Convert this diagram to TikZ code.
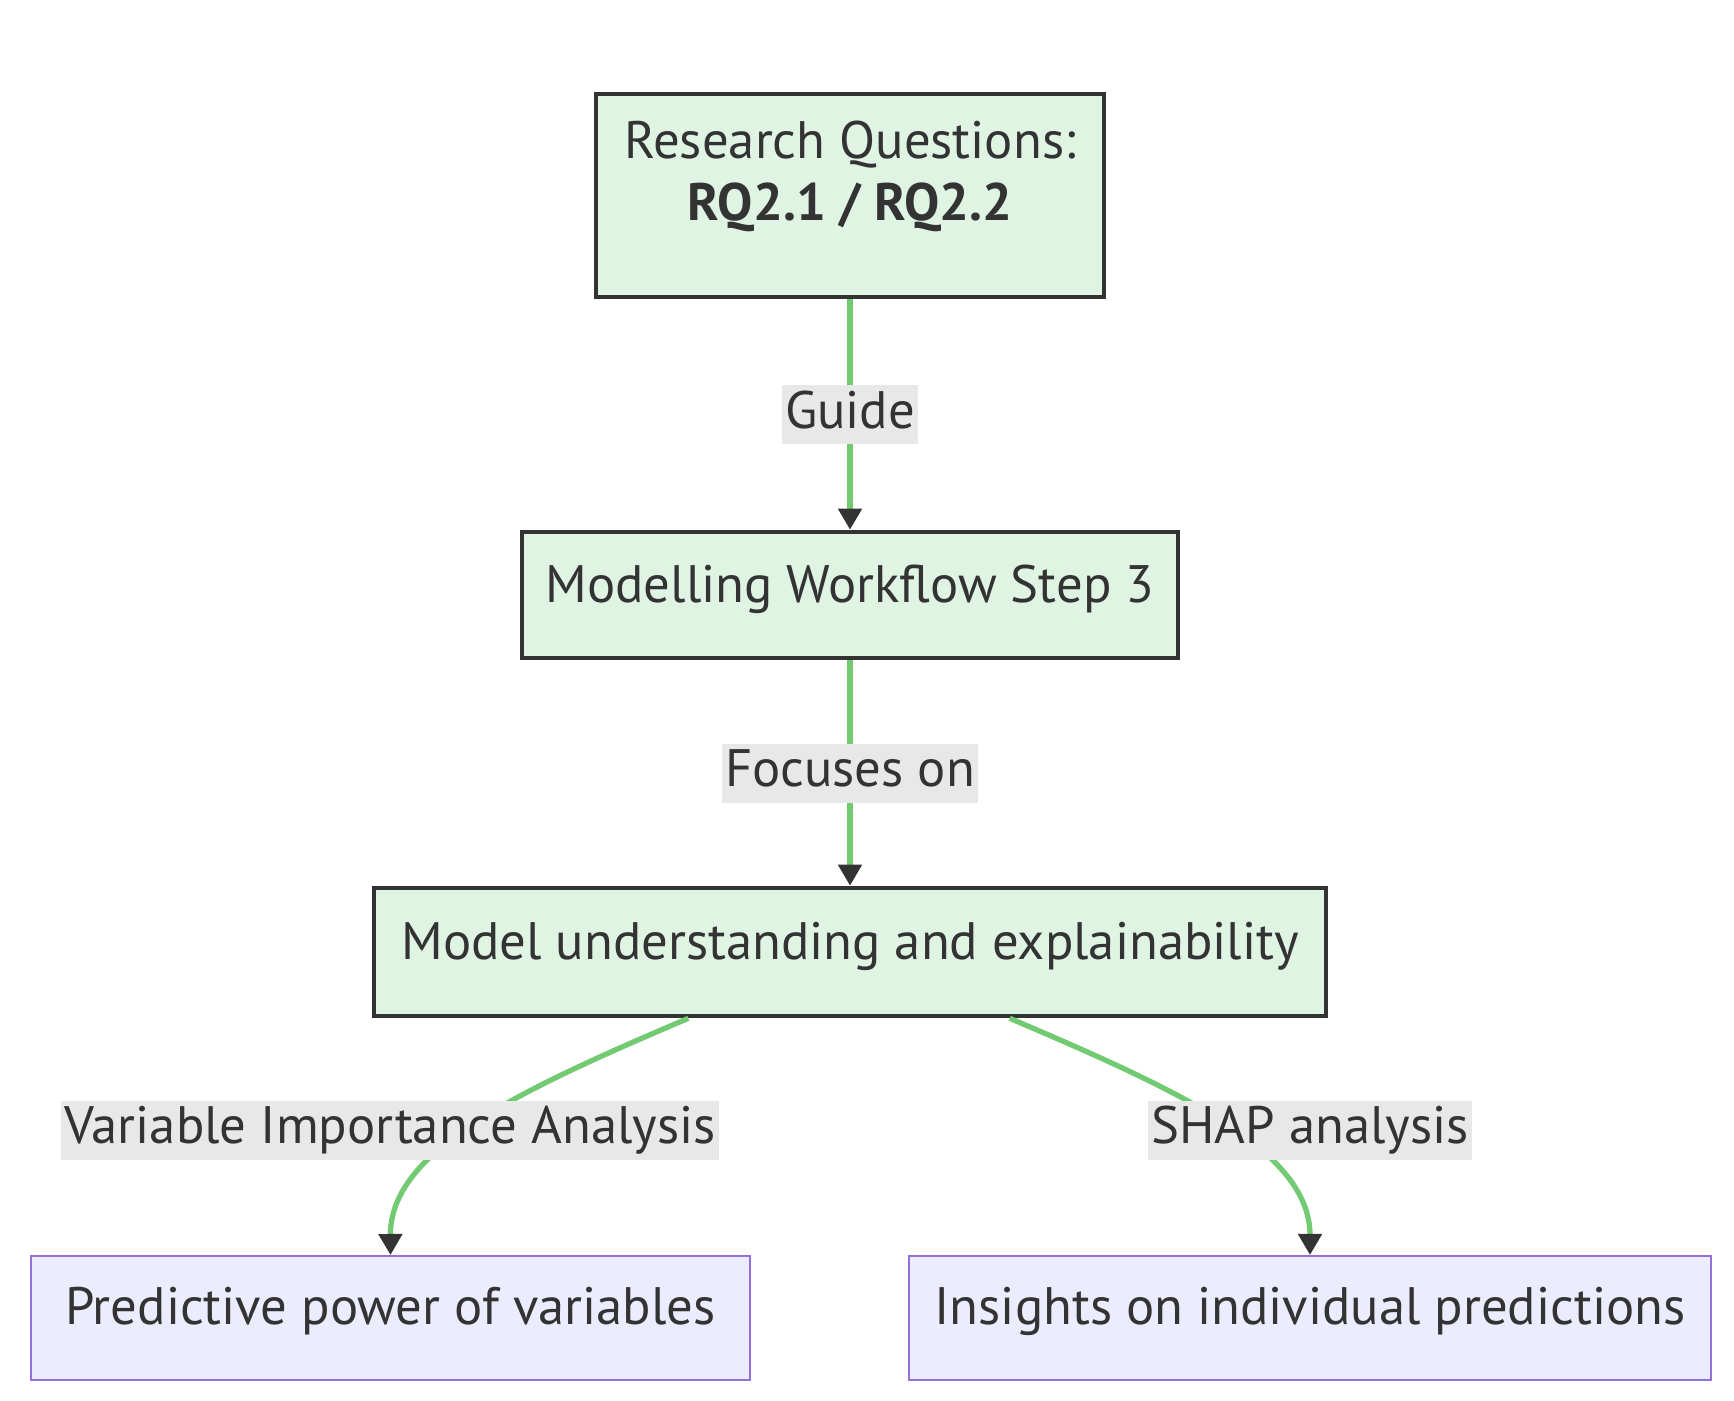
\documentclass[tikz,border=0pt]{standalone}
\usepackage{fontspec}
\setmainfont{PT Sans}
\usetikzlibrary{arrows.meta, calc}
\definecolor{boxgreen}{HTML}{DFF4E3}
\definecolor{edgegreen}{HTML}{72CB72}
\definecolor{inkgray}{HTML}{333333}
\definecolor{lavender}{HTML}{ECECFF}
\definecolor{purpleline}{HTML}{9370DB}
\definecolor{labelgray}{HTML}{E8E8E8}

\begin{document}
\begin{tikzpicture}[x=0.02cm,y=-0.02cm,
  >={Triangle[length=12pt,width=13pt,color=inkgray]},
  font=\fontsize{30}{35}\selectfont, text=inkgray,
  main node/.style={rectangle,draw=inkgray,line width=2.6pt,fill=boxgreen,align=center},
  leaf node/.style={rectangle,draw=purpleline,line width=1.1pt,fill=lavender,align=center},
  edge label/.style={fill=labelgray,inner sep=0.06cm,text height=0.8cm,text depth=0.26cm},
  link/.style={->,draw=edgegreen,line width=3pt}]
  \useasboundingbox (0,0) rectangle (1734,1400);
  \node[main node,minimum width=10.16cm,minimum height=4.06cm,text depth=1.0cm] (1) at (850,195.5)
    {Research Questions:\\\textbf{RQ2.1 / RQ2.2}};
  \node[main node,minimum width=13.12cm,minimum height=2.52cm,text depth=0.45cm] (2) at (850,595) {Modelling Workflow Step 3};
  \node[main node,minimum width=19.04cm,minimum height=2.56cm,text depth=0.45cm] (3) at (850,952) {Model understanding and explainability};
  \node[leaf node,minimum width=14.38cm,minimum height=2.48cm,text depth=0.5cm] (4) at (390.5,1318) {Predictive power of variables};
  \node[leaf node,minimum width=16.04cm,minimum height=2.48cm,text depth=0.5cm] (5) at (1310,1318) {Insights on individual predictions};
  \path[link]
    (1) edge node[edge label] {Guide} (2)
    (2) edge node[edge label] {Focuses on} (3);
  \draw[link] ($(3.south west)!0.331!(3.south east)$) .. controls (520,1090) and (390,1150) .. (4.north);
  \draw[link] ($(3.south west)!0.667!(3.south east)$) .. controls (1178,1090) and (1310,1150) .. (5.north);
  \node[edge label] (a) at (390,1130) {Variable Importance Analysis};
  \node[edge label] (b) at (1310,1130) {SHAP analysis};
\end{tikzpicture}
\end{document}
